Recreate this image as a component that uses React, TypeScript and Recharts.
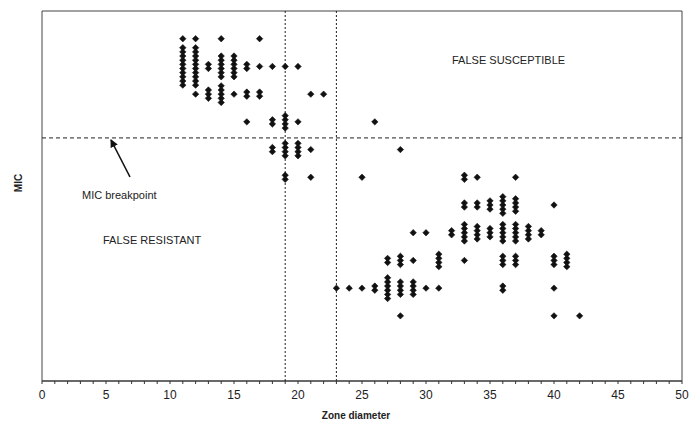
import { ReferenceArea, ReferenceLine, Scatter, ScatterChart, XAxis, YAxis } from "recharts";

// MIC rows, bottom (0) to top (10): [zone diameter, isolates]
const micRow0 = [[28, 1], [40, 1], [42, 1]];
const micRow1 = [[23, 1], [24, 1], [25, 1], [26, 2], [27, 6], [28, 4], [29, 4], [30, 1], [31, 1], [36, 2], [40, 1]];
const micRow2 = [[27, 2], [28, 3], [29, 1], [31, 4], [33, 1], [36, 3], [37, 3], [40, 3], [41, 4]];
const micRow3 = [[29, 1], [30, 1], [32, 2], [33, 5], [34, 4], [35, 3], [36, 5], [37, 5], [38, 4], [39, 2]];
const micRow4 = [[33, 2], [34, 2], [35, 3], [36, 5], [37, 4], [40, 1]];
const micRow5 = [[19, 2], [21, 1], [25, 1], [33, 2], [34, 1], [37, 1]];
const micRow6 = [[18, 2], [19, 4], [20, 4], [21, 1], [28, 1]];
const micRow7 = [[16, 1], [18, 2], [19, 4], [20, 1], [26, 1]];
const micRow8 = [[12, 1], [13, 3], [14, 5], [15, 1], [16, 2], [17, 2], [21, 1], [22, 1]];
const micRow9 = [[11, 10], [12, 10], [13, 2], [14, 6], [15, 6], [16, 2], [17, 1], [18, 1], [19, 1], [20, 1]];
const micRow10 = [[11, 1], [12, 1], [14, 1], [17, 1]];

const micRows = [micRow0, micRow1, micRow2, micRow3, micRow4, micRow5, micRow6, micRow7, micRow8, micRow9, micRow10];

const zoneTicks = Array.from({ length: 51 }, (_, i) => i);
const zoneLabels = [0, 5, 10, 15, 20, 25, 30, 35, 40, 45, 50];
const zoneBreakpoints = [19, 23];
const micBreakpoint = 6.42;

// stacked isolates at the same zone / MIC are spread a little vertically
const STACK = 0.15;
const points: { zone: number; mic: number }[] = [];
micRows.forEach((row, level) => {
  row.forEach(([zone, n]) => {
    for (let i = 0; i < n; i++) points.push({ zone, mic: level + (i - (n - 1) / 2) * STACK });
  });
});

const font = "'Liberation Sans', Arial, sans-serif";

const Diamond = (props: any) => {
  const { cx, cy } = props;
  return (
    <path
      d={`M${cx},${cy - 3.2}L${cx + 3.2},${cy}L${cx},${cy + 3.2}L${cx - 3.2},${cy}Z`}
      fill="#111"
      stroke="#111"
      strokeWidth={0.6}
      strokeLinejoin="round"
    />
  );
};

const ZoneTick = (props: any) => {
  const { x, y, payload } = props;
  if (!zoneLabels.includes(payload.value)) return null;
  return (
    <text x={x} y={y + 13} textAnchor="middle" fontSize={12} fill="#222" fontFamily={font}>
      {payload.value}
    </text>
  );
};

export default function App() {
  return (
    <div style={{ position: "absolute", left: 0, top: 0, width: 700, height: 428, background: "#fff" }}>
      <ScatterChart width={700} height={428} margin={{ top: 11, right: 18, left: 42, bottom: 0 }}>
        <XAxis
          type="number"
          dataKey="zone"
          domain={[0, 50]}
          ticks={zoneTicks}
          interval={0}
          height={47}
          tickSize={3}
          stroke="#333"
          tick={<ZoneTick />}
        />
        <YAxis type="number" dataKey="mic" domain={[-2.35, 11]} hide allowDataOverflow />
        <ReferenceArea x1={0} x2={50} y1={-2.35} y2={11} fill="none" stroke="#444" />
        {zoneBreakpoints.map((z) => (
          <ReferenceLine key={z} x={z} stroke="#222" strokeDasharray="2 2" />
        ))}
        <ReferenceLine y={micBreakpoint} stroke="#222" strokeDasharray="4 3" />
        <Scatter data={points} shape={<Diamond />} isAnimationActive={false} />
      </ScatterChart>
      <svg width={700} height={428} style={{ position: "absolute", left: 0, top: 0, pointerEvents: "none" }}>
        <defs>
          <marker id="head" markerWidth="8" markerHeight="8" refX="7" refY="4" orient="auto" markerUnits="userSpaceOnUse">
            <path d="M0,0 L8,4 L0,8 Z" fill="#111" />
          </marker>
        </defs>
        <line x1={130} y1={177} x2={111} y2={140} stroke="#111" strokeWidth={1.6} markerEnd="url(#head)" />
        <g fontFamily={font} fontSize={11} fill="#222">
          <text x={82} y={199}>MIC breakpoint</text>
          <text x={103} y={244}>FALSE RESISTANT</text>
          <text x={452} y={64}>FALSE SUSCEPTIBLE</text>
        </g>
        <text x={356} y={419} textAnchor="middle" fontFamily={font} fontSize={10} fontWeight="bold" fill="#222">
          Zone diameter
        </text>
        <text
          x={22}
          y={183}
          textAnchor="middle"
          transform="rotate(-90 22 183)"
          fontFamily={font}
          fontSize={10}
          fontWeight="bold"
          fill="#222"
        >
          MIC
        </text>
      </svg>
    </div>
  );
}
